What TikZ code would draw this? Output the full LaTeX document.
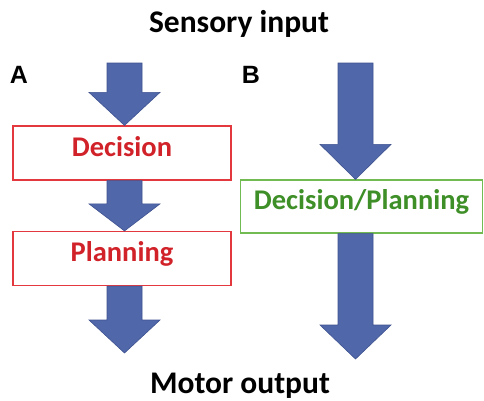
\documentclass[tikz,border=0pt]{standalone}
\usepackage{fontspec}
\setmainfont{Carlito}
\newfontfamily\labfont{Liberation Sans}
\usetikzlibrary{calc}
\definecolor{arrowfill}{HTML}{5067AA}
\definecolor{arrowline}{HTML}{3E5290}
\definecolor{redtext}{HTML}{D12229}
\definecolor{redline}{HTML}{E2383E}
\definecolor{greentext}{HTML}{3E8F27}
\definecolor{greenline}{HTML}{72BA52}
\tikzset{
  boxbase/.style={rectangle, line width=1.2pt, fill=white, inner sep=0pt,
    minimum height=54pt, text height=18pt, text depth=12pt,
    font=\fontsize{28.5}{30}\selectfont\bfseries},
  redbox/.style={boxbase, draw=redline, text=redtext, minimum width=218pt},
  greenbox/.style={boxbase, draw=greenline, text=greentext, minimum width=242pt, minimum height=53pt},
  titletext/.style={anchor=base, inner sep=0pt, font=\fontsize{31.5}{33}\selectfont\bfseries},
  paneltext/.style={anchor=base, inner sep=0pt, font=\labfont\fontsize{25}{27}\selectfont\bfseries},
  blockarrow/.style={fill=arrowfill, draw=arrowline, line width=0.6pt, line join=miter}
}
% #1 top-of-shaft point, #2 tip point, #3 head length
\newcommand\blockarr[3]{%
  \path[blockarrow] ($(#1)+(-17.5,0)$) -- ($(#1)+(17.5,0)$) -- ($(#2)+(17.5,-#3)$)
    -- ($(#2)+(35.5,-#3)$) -- (#2) -- ($(#2)+(-35.5,-#3)$) -- ($(#2)+(-17.5,-#3)$) -- cycle;}
\begin{document}
\begin{tikzpicture}[x=1pt, y=-1pt]
\useasboundingbox (0,0) rectangle (484,400);
\node[titletext] (sens) at (239,32) {Sensory input};
\node[titletext] (motor) at (240,393) {Motor output};
\node[paneltext] (la) at (19,83) {A};
\node[paneltext] (lb) at (251,83) {B};
% column A
\node[redbox] (dec) at (122,153) {Decision};
\node[redbox] (plan) at (122,258.5) {Planning};
\coordinate (a1top) at (124.5,63);
\coordinate (a3tip) at (124.5,353);
\coordinate (b1top) at (355.5,63);
\coordinate (b2tip) at (355.5,359);
% column B
\node[greenbox] (dp) at (361.5,206.5) {Decision/Planning};
% arrows
\blockarr{a1top}{a1top |- dec.north}{33}
\blockarr{a1top |- dec.south}{a1top |- plan.north}{27}
\blockarr{a1top |- plan.south}{a3tip}{33}
\blockarr{b1top}{b1top |- dp.north}{35}
\blockarr{b1top |- dp.south}{b2tip}{34}
\end{tikzpicture}
\end{document}
